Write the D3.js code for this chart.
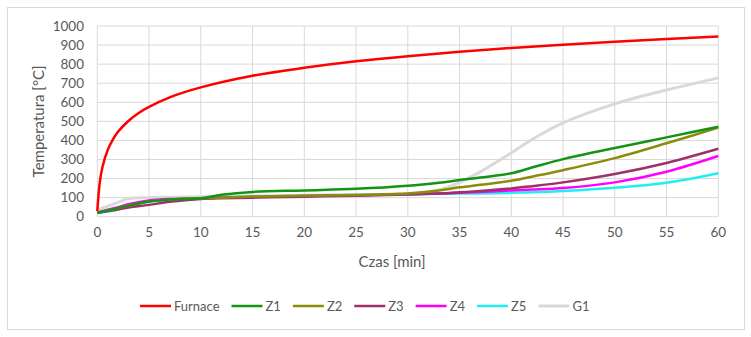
<!DOCTYPE html>
<html>
<head>
<meta charset="utf-8">
<script src="https://cdn.jsdelivr.net/npm/d3@7"></script>
<style>
  body { margin: 0; background: #fff; }
  svg text { font-family: Lato, "Open Sans", sans-serif; fill: #595959; }
</style>
</head>
<body>
<div id="chart"></div>
<script>
// ---- data ----
const furnaceMinutes = [0, 0.25, 0.5, 1, 1.5, 2, 3, 4, 5, 7, 10, 15, 20, 25, 30, 35, 40, 45, 50, 55, 60];
const furnace = [30, 185, 261, 349, 404, 445, 502, 544, 576, 626, 678, 739, 781, 815, 842, 865, 885, 902, 918, 932, 945];

const minutes = [0, 2, 3, 5, 7, 10, 12, 15, 20, 25, 30, 33, 35, 37, 40, 42, 45, 50, 55, 60];
const z1 = [20, 45, 58, 80, 90, 97, 115, 130, 138, 146, 162, 178, 192, 205, 228, 258, 302, 360, 416, 472];
const z2 = [20, 45, 58, 80, 90, 97, 100, 106, 110, 114, 122, 137, 154, 167, 188, 210, 244, 307, 385, 467];
const z3 = [20, 38, 48, 62, 78, 93, 97, 100, 105, 110, 116, 122, 128, 135, 148, 160, 180, 224, 282, 356];
const z4 = [22, 50, 65, 85, 93, 97, 100, 103, 108, 112, 118, 122, 126, 130, 138, 142, 150, 180, 236, 318];
const z5 = [20, 38, 55, 78, 88, 97, 102, 106, 110, 114, 118, 120, 121, 122, 125, 128, 135, 152, 178, 228];
const g1 = [35, 75, 95, 100, 102, 105, 106, 108, 112, 116, 122, 140, 180, 235, 335, 405, 492, 592, 664, 728];

const seriesNames = ['Furnace', 'Z1', 'Z2', 'Z3', 'Z4', 'Z5', 'G1'];
const seriesColors = ['#ff0000', '#149414', '#8c8c0a', '#9e3167', '#ff00ff', '#1ef0f0', '#d9d9d9'];

const xTicks = [0, 5, 10, 15, 20, 25, 30, 35, 40, 45, 50, 55, 60];
const yTicks = [0, 100, 200, 300, 400, 500, 600, 700, 800, 900, 1000];

// ---- chart ----
const width = 751, height = 337;
const plot = { left: 97.3, right: 718.3, top: 26, bottom: 216.7 };

const svg = d3.select('#chart')
    .append('svg')
    .attr('width', width)
    .attr('height', height);

// chart border
svg.append('rect')
    .attr('x', 7.5).attr('y', 7.5)
    .attr('width', 737).attr('height', 322)
    .attr('fill', '#fff')
    .attr('stroke', '#d9d9d9')
    .attr('stroke-width', 1);

const x = d3.scaleLinear().domain([0, 60]).range([plot.left, plot.right]);
const y = d3.scaleLinear().domain([0, 1000]).range([plot.bottom, plot.top]);

// gridlines
svg.append('g')
    .selectAll('line')
    .data(yTicks)
    .enter()
    .append('line')
    .attr('x1', plot.left).attr('x2', plot.right)
    .attr('y1', d => y(d)).attr('y2', d => y(d))
    .style('stroke', '#d9d9d9')
    .style('stroke-width', 1);

svg.append('g')
    .selectAll('line')
    .data(xTicks)
    .enter()
    .append('line')
    .attr('x1', d => x(d)).attr('x2', d => x(d))
    .attr('y1', plot.top).attr('y2', plot.bottom)
    .style('stroke', '#d9d9d9')
    .style('stroke-width', 1);

// tick labels
svg.append('g')
    .selectAll('text')
    .data(yTicks)
    .enter()
    .append('text')
    .attr('x', 84)
    .attr('y', d => y(d))
    .attr('dy', '0.35em')
    .style('text-anchor', 'end')
    .style('font-size', '13.5px')
    .text(d => d);

svg.append('g')
    .selectAll('text')
    .data(xTicks)
    .enter()
    .append('text')
    .attr('x', d => x(d))
    .attr('y', 232)
    .attr('dy', '0.35em')
    .style('text-anchor', 'middle')
    .style('font-size', '13.5px')
    .text(d => d);

// axis titles
svg.append('text')
    .attr('transform', `translate(39,${(plot.top + plot.bottom) / 2}) rotate(-90)`)
    .attr('dy', '0.35em')
    .style('text-anchor', 'middle')
    .style('font-size', '15px')
    .text('Temperatura [°C]');

svg.append('text')
    .attr('x', 392)
    .attr('y', 262)
    .attr('dy', '0.35em')
    .style('text-anchor', 'middle')
    .style('font-size', '15px')
    .text('Czas [min]');

// series
const series = [
    furnaceMinutes.map((t, i) => [t, furnace[i]]),
    minutes.map((t, i) => [t, z1[i]]),
    minutes.map((t, i) => [t, z2[i]]),
    minutes.map((t, i) => [t, z3[i]]),
    minutes.map((t, i) => [t, z4[i]]),
    minutes.map((t, i) => [t, z5[i]]),
    minutes.map((t, i) => [t, g1[i]])
];

const line = d3.line()
    .x(d => x(d[0]))
    .y(d => y(d[1]))
    .curve(d3.curveCatmullRom.alpha(0.5));

// draw gray G1 first, then zones, furnace on top
const drawOrder = [6, 5, 4, 3, 2, 1, 0];
svg.append('g')
    .selectAll('path')
    .data(drawOrder)
    .enter()
    .append('path')
    .attr('d', i => line(series[i]))
    .style('fill', 'none')
    .style('stroke', i => seriesColors[i])
    .style('stroke-width', i => i === 6 ? 3 : 2.5)
    .style('stroke-linejoin', 'round');

// legend
const legend = svg.append('g');
let lx = 140;
const ly = 306;
seriesNames.forEach((name, i) => {
    legend.append('line')
        .attr('x1', lx).attr('x2', lx + 31)
        .attr('y1', ly).attr('y2', ly)
        .style('stroke', seriesColors[i])
        .style('stroke-width', i === 6 ? 3 : 2.5);
    const t = legend.append('text')
        .attr('x', lx + 34)
        .attr('y', ly)
        .attr('dy', '0.35em')
        .style('font-size', '13px')
        .text(name);
    lx += 34 + t.node().getComputedTextLength() + 12;
});
</script>
</body>
</html>
